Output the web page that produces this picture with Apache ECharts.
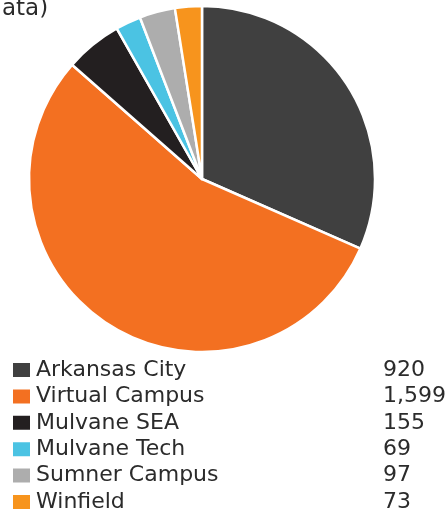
<!DOCTYPE html>
<html>
<head>
<meta charset="utf-8">
<script src="https://cdn.jsdelivr.net/npm/echarts@6/dist/echarts.min.js"></script>
<style>
  html, body { margin: 0; padding: 0; background: #fff; }
  #chart { width: 448px; height: 519px; }
</style>
</head>
<body>
<div id="chart"></div>
<script>
const campuses = ["Arkansas City", "Virtual Campus", "Mulvane SEA", "Mulvane Tech", "Sumner Campus", "Winfield"];
const enrollment = [920, 1599, 155, 69, 97, 73];
const sliceColors = ["#404040", "#F37021", "#231F20", "#4BC3E3", "#ADADAD", "#F7941D"];

const fontFamily = "DejaVu Sans";
const chart = echarts.init(document.getElementById("chart"));

chart.setOption({
  animation: false,
  color: sliceColors,
  graphic: [
    {
      type: "text",
      left: 2,
      top: -2,
      style: { text: "ata)", font: "23px " + fontFamily, fill: "#2b2b2b" },
    },
  ],
  legend: {
    orient: "vertical",
    left: 6,
    top: 354,
    itemWidth: 19,
    itemHeight: 16,
    itemGap: 4.4,
    icon: "rect",
    data: campuses,
    formatter: (name) => {
      const v = enrollment[campuses.indexOf(name)];
      return "{n|" + name + "}{v|" + v.toLocaleString("en-US") + "}";
    },
    textStyle: {
      rich: {
        n: { width: 347, fontSize: 22, color: "#2b2b2b", fontFamily },
        v: { fontSize: 22, color: "#2b2b2b", fontFamily },
      },
    },
  },
  series: [
    {
      type: "pie",
      center: [202, 179],
      radius: 173,
      startAngle: 90,
      clockwise: true,
      label: { show: false },
      labelLine: { show: false },
      itemStyle: { borderColor: "#fff", borderWidth: 2.5 },
      emphasis: { disabled: true },
      data: campuses.map((name, i) => ({ name, value: enrollment[i] })),
    },
  ],
});
</script>
</body>
</html>
